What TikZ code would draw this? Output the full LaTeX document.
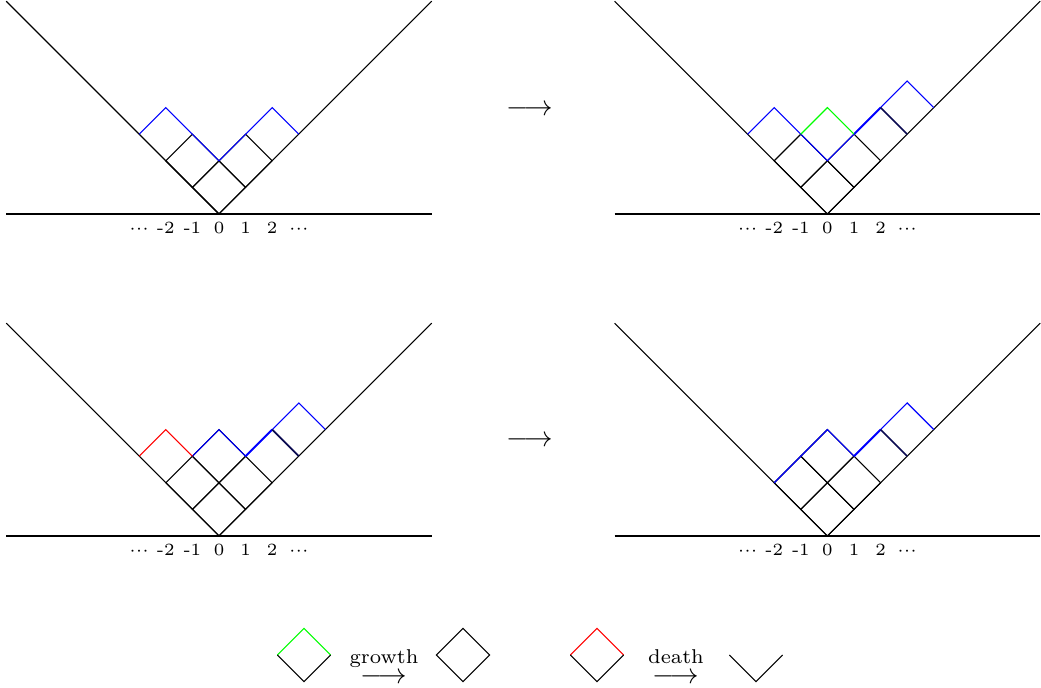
\documentclass[tikz,border=0pt]{standalone}
\usepackage{amsmath}
\definecolor{darkline}{RGB}{10,10,80}
\tikzset{
  cellline/.style={black, line width=0.38pt},
  prof/.style={blue, line width=0.38pt},
  profthick/.style={blue, line width=0.65pt},
  darkedge/.style={darkline, line width=0.6pt},
  growedge/.style={green, line width=0.38pt},
  dieedge/.style={red, line width=0.38pt},
  lab/.style={font=\fontsize{6}{7}\selectfont, anchor=base, inner sep=0pt},
  bigarrow/.style={font=\fontsize{10}{12}\selectfont, anchor=base, inner sep=0pt},
  arrowlab/.style={font=\fontsize{7}{8}\selectfont, anchor=base, inner sep=0pt},
  panel/.style={x=9.31pt, y=9.31pt},
}
\newcommand\mydots{$\mathord{\cdot}\mathord{\cdot}\mathord{\cdot}$}
\newcommand\basepanel[1]{%
  \draw[cellline] (-8,0) -- (8,0);
  \draw[cellline] (-8,8) -- (0,0) -- (8,8);
  \foreach \k/\t in {-3/\mydots,-2/-2,-1/-1,0/0,1/1,2/2,3/\mydots}
    \node[lab] (#1\k) at (\k,-0.733) {\t};
}
\newcommand\cell[1]{\draw[cellline] (#1) -- ++(1,1) -- ++(-1,1) -- ++(-1,-1) -- cycle;}
\begin{document}
\begin{tikzpicture}[x=0.35pt, y=-0.35pt]
\useasboundingbox (0,0) rectangle (1041,688);

% top left
\begin{scope}[xshift=76.65pt, yshift=-74.9pt, panel]
  \basepanel{tl}
  \cell{0,0}\cell{-1,1}\cell{1,1}
  \draw[prof] (-3,3) -- (-2,4) -- (-1,3) -- (0,2) -- (1,3) -- (2,4) -- (3,3);
\end{scope}

% top right
\begin{scope}[xshift=289.6pt, yshift=-74.9pt, panel]
  \basepanel{tr}
  \cell{0,0}\cell{-1,1}\cell{1,1}
  \draw[prof] (-3,3) -- (-2,4) -- (-1,3) -- (0,2) -- (1,3) -- (2,4) -- (3,5) -- (4,4);
  \draw[profthick] (1,3) -- (2,4);
  \draw[darkedge] (2,4) -- (3,3);
  \draw[growedge] (-1,3) -- (0,4) -- (1,3);
\end{scope}

% bottom left
\begin{scope}[xshift=76.65pt, yshift=-187.6pt, panel]
  \basepanel{bl}
  \cell{0,0}\cell{-1,1}\cell{1,1}\cell{0,2}
  \draw[prof] (-1,3) -- (0,4) -- (1,3) -- (2,4) -- (3,5) -- (4,4);
  \draw[profthick] (1,3) -- (2,4);
  \draw[darkedge] (2,4) -- (3,3);
  \draw[dieedge] (-3,3) -- (-2,4) -- (-1,3);
\end{scope}

% bottom right
\begin{scope}[xshift=289.6pt, yshift=-187.6pt, panel]
  \basepanel{br}
  \cell{0,0}\cell{-1,1}\cell{1,1}\cell{0,2}
  \draw[prof] (-2,2) -- (-1,3) -- (0,4) -- (1,3) -- (2,4) -- (3,5) -- (4,4);
  \draw[profthick] (1,3) -- (2,4);
  \draw[darkedge] (2,4) -- (3,3);
\end{scope}

% big arrows
\node[bigarrow] (arrtop) at (530,116) {$\longrightarrow$};
\node[bigarrow] (arrbot) at (530,447) {$\longrightarrow$};

% legend
\draw[growedge] (277.4,655) -- (304,628.4) -- (330.6,655);
\draw[cellline] (277.4,655) -- (304,681.6) -- (330.6,655);
\node[bigarrow] (growarr) at (384,684) {$\longrightarrow$};
\node[arrowlab] (growlab) at (384,664) {growth};
\draw[cellline] (436.4,655) -- (463,628.4) -- (489.6,655) -- (463,681.6) -- cycle;

\draw[dieedge] (570.4,655) -- (597,628.4) -- (623.6,655);
\draw[cellline] (570.4,655) -- (597,681.6) -- (623.6,655);
\node[bigarrow] (deatharr) at (676,684) {$\longrightarrow$};
\node[arrowlab] (deathlab) at (676,664) {death};
\draw[cellline] (729.4,655) -- (756,681.6) -- (782.6,655);
\end{tikzpicture}
\end{document}
